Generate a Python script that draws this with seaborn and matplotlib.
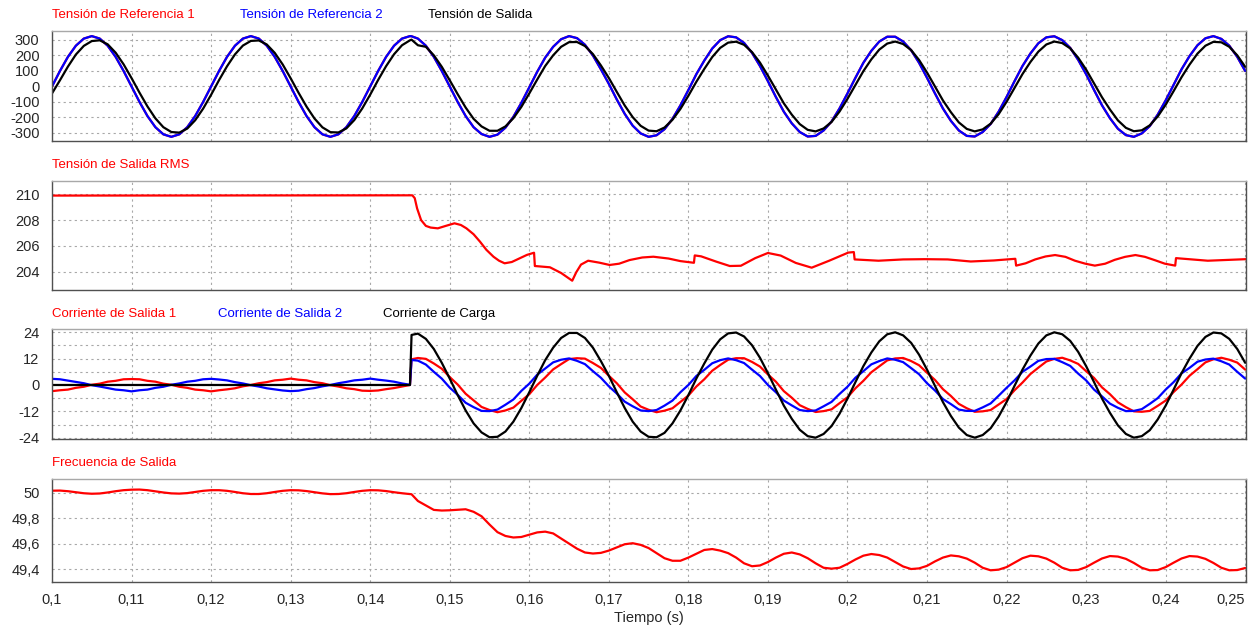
import numpy as np
import matplotlib
matplotlib.use("Agg")
import matplotlib.pyplot as plt
from matplotlib.ticker import FuncFormatter, MultipleLocator
import seaborn as sns

sns.set_style("white")
plt.rcParams['font.family'] = ['Liberation Sans', 'DejaVu Sans']

# sampling grid (1 ms) with one extra sample just after the load step at 0.145 s
tiempo = np.round(np.concatenate([np.arange(0.100, 0.1455, 0.001), [0.1452],
                                  np.arange(0.146, 0.2505, 0.001)]), 4)

# ---- panel 1: voltages (V)
tension_ref2 = [
    0, 100, 191, 263, 309, 325, 309, 263, 191, 100,
    0, -100, -191, -263, -309, -325, -309, -263, -191, -100,
    0, 100, 191, 263, 309, 325, 309, 263, 191, 100,
    0, -100, -191, -263, -309, -325, -309, -263, -191, -100,
    0, 100, 191, 263, 309, 325,
    324,
    309, 263, 191, 100, 0, -100, -191, -263, -307, -325,
    -311, -266, -196, -106, -6, 95, 186, 256, 305, 325,
    312, 269, 200, 111, 17, -84, -177, -253, -303, -325,
    -315, -276, -209, -122, -23, 79, 167, 245, 299, 324,
    317, 281, 217, 132, 34, -68, -163, -238, -294, -323,
    -319, -284, -226, -142, -45, 56, 153, 230, 290, 321,
    321, 290, 234, 153, 56, -45, -142, -222, -284, -319,
    -323, -294, -242, -163, -68, 34, 132, 213, 279, 317,
    324, 299, 249, 172, 79, -23, -122, -205, -273, -314,
    -325, -303, -256, -182, -90, 11, 111, 196, 266, 311,
    325, 307, 263, 191, 100,
]
# reference 1 lies right under reference 2 in the picture
tension_ref1 = list(tension_ref2)

tension_salida = [
    -45, 40, 128, 206, 262, 293, 298, 272, 218, 143,
    54, -40, -129, -206, -263, -294, -298, -272, -218, -143,
    -54, 41, 130, 207, 264, 294, 297, 271, 217, 142,
    53, -41, -130, -207, -264, -295, -297, -271, -217, -142,
    -53, 42, 131, 208, 266, 298,
    302,
    266, 256, 201, 127, 40, -50, -136, -209, -258, -286,
    -286, -258, -205, -132, -45, 45, 132, 201, 256, 286,
    287, 261, 209, 136, 55, -35, -123, -198, -254, -285,
    -289, -265, -215, -145, -60, 30, 113, 190, 249, 283,
    289, 269, 222, 154, 70, -20, -109, -182, -243, -280,
    -290, -271, -229, -162, -80, 10, 99, 175, 238, 277,
    290, 274, 235, 171, 90, 0, -90, -166, -232, -274,
    -290, -277, -240, -179, -99, -10, 80, 158, 225, 271,
    290, 280, 246, 186, 109, 20, -70, -149, -219, -267,
    -289, -283, -251, -194, -118, -30, 60, 141, 212, 263,
    288, 285, 256, 201, 127,
]

# ---- panel 2: output RMS voltage (own time points)
rms_t = [0.1000, 0.1453, 0.1456, 0.1459, 0.1464, 0.1470, 0.1476, 0.1485, 0.1495, 0.1506,
         0.1514, 0.1521, 0.1530, 0.1538, 0.1546, 0.1555, 0.1562, 0.1569, 0.1578, 0.1588,
         0.1597, 0.1606, 0.1607, 0.1626, 0.1640, 0.1654, 0.1659, 0.1665, 0.1674, 0.1688,
         0.1701, 0.1713, 0.1726, 0.1742, 0.1756, 0.1775, 0.1790, 0.1807, 0.1808, 0.1816,
         0.1835, 0.1852, 0.1866, 0.1884, 0.1900, 0.1916, 0.1935, 0.1955, 0.1977, 0.2001,
         0.2008, 0.2009, 0.2039, 0.2070, 0.2097, 0.2126, 0.2155, 0.2184, 0.2211, 0.2212,
         0.2224, 0.2236, 0.2249, 0.2261, 0.2274, 0.2286, 0.2299, 0.2311, 0.2324, 0.2336,
         0.2349, 0.2362, 0.2374, 0.2387, 0.2399, 0.2412, 0.2413, 0.2453, 0.2501]
rms_v = [209.90, 209.92, 209.70, 208.90, 208.00, 207.55, 207.42, 207.36, 207.55, 207.75,
         207.62, 207.36, 206.90, 206.33, 205.70, 205.16, 204.85, 204.65, 204.75, 205.04,
         205.30, 205.47, 204.44, 204.34, 203.90, 203.30, 203.95, 204.55, 204.85, 204.70,
         204.52, 204.62, 204.90, 205.10, 205.16, 205.02, 204.82, 204.69, 205.26, 205.19,
         204.78, 204.44, 204.46, 205.05, 205.45, 205.25, 204.68, 204.31, 204.85, 205.48,
         205.52, 204.95, 204.85, 204.95, 204.97, 204.95, 204.79, 204.87, 205.00, 204.47,
         204.65, 204.95, 205.18, 205.29, 205.15, 204.85, 204.62, 204.47, 204.62, 204.92,
         205.15, 205.29, 205.15, 204.88, 204.62, 204.47, 205.05, 204.85, 204.97]

# ---- panel 3: currents (A)
corriente_1 = [
    -2.8, -2.4, -2.1, -1.3, -0.8, 0.1, 0.6, 1.5, 1.9, 2.6,
    2.7, 2.6, 1.9, 1.5, 0.6, 0.1, -0.8, -1.3, -2.1, -2.4,
    -2.9, -2.4, -2.0, -1.5, -0.6, 0.0, 0.8, 1.3, 2.1, 2.4,
    2.9, 2.4, 2.1, 1.3, 0.8, -0.1, -0.7, -1.5, -1.9, -2.6,
    -2.7, -2.5, -1.9, -1.4, -0.7, 0.0,
    11.7,
    12.3, 11.9, 9.8, 7.4, 3.6, 0.2, -4.0, -7.0, -10.0, -11.4,
    -12.4, -11.6, -10.3, -7.2, -4.2, 0.0, 3.4, 7.1, 9.5, 11.8,
    12.2, 12.0, 10.0, 7.8, 4.2, 0.8, -3.4, -6.5, -9.8, -11.3,
    -12.4, -11.7, -10.6, -7.7, -4.8, -0.7, 2.6, 6.5, 9.1, 11.5,
    12.2, 12.2, 10.5, 8.4, 4.8, 1.5, -2.8, -5.8, -9.2, -10.9,
    -12.3, -11.9, -11.1, -8.3, -5.6, -1.5, 1.9, 5.8, 8.5, 11.2,
    12.1, 12.3, 10.9, 9.0, 5.6, 2.3, -1.9, -5.0, -8.6, -10.6,
    -12.2, -12.0, -11.4, -8.9, -6.4, -2.4, 1.1, 5.0, 7.9, 10.7,
    11.9, 12.4, 11.2, 9.6, 6.3, 3.2, -1.1, -4.2, -7.9, -10.1,
    -12.0, -12.2, -11.8, -9.5, -7.1, -3.2, 0.2, 4.2, 7.2, 10.3,
    11.7, 12.4, 11.5, 10.2, 7.0,
]
corriente_2 = [
    2.8, 2.6, 2.0, 1.4, 0.8, -0.1, -0.7, -1.4, -2.1, -2.4,
    -2.9, -2.4, -2.1, -1.3, -0.8, 0.1, 0.7, 1.5, 1.9, 2.6,
    2.8, 2.5, 2.1, 1.3, 0.7, -0.1, -0.7, -1.5, -2.0, -2.5,
    -2.8, -2.6, -1.9, -1.4, -0.6, 0.0, 0.8, 1.4, 2.1, 2.4,
    2.9, 2.4, 2.0, 1.5, 0.7, 0.1,
    11.4,
    11.1, 9.3, 6.0, 2.9, -1.2, -4.5, -8.1, -10.1, -11.8, -11.9,
    -11.2, -9.0, -6.6, -2.7, 0.6, 4.7, 7.5, 10.3, 11.5, 12.1,
    11.0, 9.5, 6.3, 3.3, -0.6, -3.9, -7.6, -9.7, -11.6, -11.9,
    -11.4, -9.4, -7.1, -3.3, 0.0, 4.1, 6.9, 9.9, 11.3, 12.1,
    11.3, 10.0, 7.0, 4.1, 0.0, -3.3, -7.1, -9.3, -11.4, -11.9,
    -11.6, -9.7, -7.7, -4.1, -0.8, 3.3, 6.3, 9.4, 10.9, 12.1,
    11.5, 10.4, 7.7, 4.9, 0.8, -2.5, -6.4, -8.7, -11.2, -11.8,
    -11.8, -10.2, -8.4, -4.9, -1.3, 2.1, 6.0, 8.4, 11.0, 11.8,
    11.9, 10.4, 8.7, 5.2, 2.1, -2.1, -5.2, -8.5, -10.4, -11.9,
    -11.8, -11.0, -8.6, -6.0, -2.1, 1.3, 5.3, 7.8, 10.6, 11.6,
    12.0, 10.8, 9.3, 6.0, 2.9,
]
corriente_carga = [0.0] * 46 + [
    22.8,
    23.4, 21.0, 16.4, 10.1, 2.9, -4.6, -11.6, -17.5, -21.6, -23.8,
    -23.6, -21.2, -16.7, -10.5, -3.3, 4.2, 11.3, 17.0, 21.4, 23.7,
    23.7, 21.4, 17.0, 10.9, 4.2, -3.3, -10.5, -16.7, -21.2, -23.6,
    -23.8, -21.8, -17.5, -11.6, -4.6, 2.9, 9.8, 16.1, 20.8, 23.5,
    23.9, 22.1, 18.1, 12.4, 5.4, -2.1, -9.4, -15.4, -20.4, -23.3,
    -24.0, -22.3, -18.7, -13.1, -6.2, 1.3, 8.6, 14.8, 19.9, 23.1,
    24.0, 22.6, 19.2, 13.8, 7.0, -0.4, -7.8, -14.1, -19.4, -22.8,
    -24.0, -22.8, -19.7, -14.4, -7.8, -0.4, 7.0, 13.4, 18.9, 22.6,
    24.0, 23.1, 20.1, 15.1, 8.6, 1.3, -6.2, -12.7, -18.4, -22.3,
    -24.0, -23.3, -20.6, -15.7, -9.4, -2.1, 5.4, 12.0, 17.8, 21.9,
    23.9, 23.5, 21.0, 16.4, 10.1,
]

# ---- panel 4: output frequency (Hz)
frecuencia = [
    50.016, 50.017, 50.012, 50.004, 49.996, 49.992, 49.994, 50.002, 50.012, 50.020,
    50.024, 50.025, 50.020, 50.011, 50.002, 49.995, 49.993, 49.997, 50.006, 50.015,
    50.020, 50.020, 50.015, 50.006, 49.996, 49.990, 49.990, 49.996, 50.006, 50.015,
    50.020, 50.019, 50.013, 50.004, 49.995, 49.989, 49.990, 49.996, 50.006, 50.015,
    50.020, 50.019, 50.013, 50.004, 49.996, 49.990,
    49.988,
    49.935, 49.900, 49.865, 49.860, 49.862, 49.866, 49.870, 49.850, 49.815, 49.750,
    49.690, 49.660, 49.648, 49.652, 49.670, 49.688, 49.694, 49.680, 49.640, 49.600,
    49.560, 49.530, 49.522, 49.527, 49.545, 49.570, 49.595, 49.603, 49.590, 49.565,
    49.525, 49.485, 49.465, 49.465, 49.490, 49.520, 49.550, 49.557, 49.545, 49.525,
    49.490, 49.445, 49.422, 49.428, 49.455, 49.490, 49.520, 49.530, 49.515, 49.485,
    49.445, 49.410, 49.403, 49.410, 49.440, 49.475, 49.505, 49.518, 49.510, 49.490,
    49.455, 49.420, 49.400, 49.405, 49.425, 49.460, 49.490, 49.507, 49.500, 49.482,
    49.450, 49.410, 49.390, 49.395, 49.415, 49.450, 49.485, 49.505, 49.500, 49.482,
    49.450, 49.410, 49.390, 49.393, 49.415, 49.450, 49.483, 49.502, 49.498, 49.480,
    49.448, 49.410, 49.390, 49.392, 49.415, 49.450, 49.483, 49.502, 49.498, 49.480,
    49.448, 49.410, 49.390, 49.392, 49.408,
]

# x tick values of the bottom axis
ticks_t = [0.10, 0.11, 0.12, 0.13, 0.14, 0.15, 0.16, 0.17, 0.18, 0.19,
           0.20, 0.21, 0.22, 0.23, 0.24, 0.25]

W, H = 1250, 628
ROJO, AZUL, NEGRO = '#ff0000', '#0000ff', '#000000'
LW = 1.6


def coma(v, _=None):
    return f"{round(v, 3):g}".replace('.', ',')


def estilo(ax, ylim, major, minor=None):
    ax.set_xlim(0.1, 0.2501)
    ax.set_ylim(*ylim)
    ax.set_xticks(ticks_t)
    ax.yaxis.set_major_locator(MultipleLocator(major))
    if minor:
        ax.yaxis.set_minor_locator(MultipleLocator(minor))
    ax.yaxis.set_major_formatter(FuncFormatter(coma))
    ax.set_axisbelow(True)
    ax.grid(True, which='both', color='#a8a8a8', linestyle=(0, (2, 3)), linewidth=0.8)
    ax.tick_params(which='both', length=0, labelsize=10.5, pad=9)
    ax.tick_params(axis='x', labelbottom=False)
    for s in ax.spines.values():
        s.set_color('#505050')
        s.set_linewidth(1.0)
    ax.spines['top'].set_color('#a8a8a8')
    ax.set_xlabel('')
    ax.set_ylabel('')


def caja(top, bottom):
    return [52 / W, 1 - bottom / H, (1246 - 52) / W, (bottom - top) / H]


def titulo(x, y, texto, color):
    fig.text(x / W, 1 - y / H, texto, color=color, fontsize=9.5, ha='left', va='center')


fig = plt.figure(figsize=(12.5, 6.28), dpi=100)
ax1 = fig.add_axes(caja(31, 141))
ax2 = fig.add_axes(caja(181, 290))
ax3 = fig.add_axes(caja(329, 439))
ax4 = fig.add_axes(caja(479, 582))

kw = dict(estimator=None, sort=False, legend=False, linewidth=LW)

sns.lineplot(x=tiempo, y=tension_ref1, ax=ax1, color=ROJO, **kw)
sns.lineplot(x=tiempo, y=tension_ref2, ax=ax1, color=AZUL, **kw)
sns.lineplot(x=tiempo, y=tension_salida, ax=ax1, color=NEGRO, **kw)
estilo(ax1, (-352, 358), 100)

sns.lineplot(x=rms_t, y=rms_v, ax=ax2, color=ROJO, **kw)
estilo(ax2, (202.58, 211.03), 2)

sns.lineplot(x=tiempo, y=corriente_1, ax=ax3, color=ROJO, **kw)
sns.lineplot(x=tiempo, y=corriente_2, ax=ax3, color=AZUL, **kw)
sns.lineplot(x=tiempo, y=corriente_carga, ax=ax3, color=NEGRO, **kw)
estilo(ax3, (-24.6, 25.5), 12, 6)

sns.lineplot(x=tiempo, y=frecuencia, ax=ax4, color=ROJO, **kw)
estilo(ax4, (49.298, 50.108), 0.2)
ax4.set_xticks(ticks_t, labels=[coma(v) for v in ticks_t])
ax4.tick_params(axis='x', labelbottom=True, pad=8)
ax4.set_xlabel('Tiempo (s)', fontsize=10.5, labelpad=3)
# the last label sits flush with the right edge, as in the reference
ax4.get_xticklabels()[-1].set_horizontalalignment('right')

titulo(52, 15, 'Tensión de Referencia 1', ROJO)
titulo(240, 15, 'Tensión de Referencia 2', AZUL)
titulo(428, 15, 'Tensión de Salida', NEGRO)
titulo(52, 165, 'Tensión de Salida RMS', ROJO)
titulo(52, 314, 'Corriente de Salida 1', ROJO)
titulo(218, 314, 'Corriente de Salida 2', AZUL)
titulo(383, 314, 'Corriente de Carga', NEGRO)
titulo(52, 463, 'Frecuencia de Salida', ROJO)

fig.savefig('out.png', dpi=100)
